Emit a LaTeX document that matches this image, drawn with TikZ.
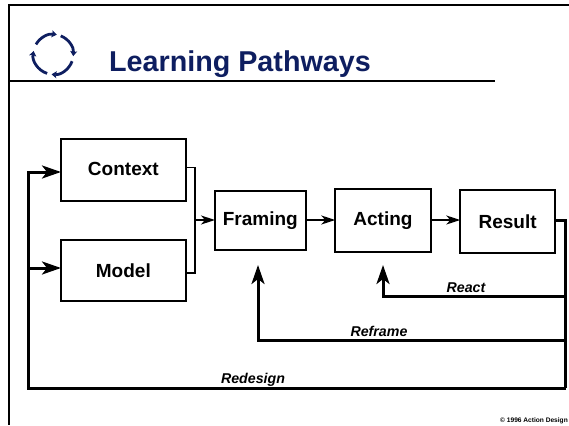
\documentclass[tikz,border=0pt]{standalone}
\usepackage{fontspec}
\setmainfont{Liberation Sans}
\usetikzlibrary{arrows.meta}
\definecolor{navy}{RGB}{14,30,96}
\tikzset{
  x=1pt,y=-1pt,
  box/.style={draw=black,line width=1.8pt,fill=white,inner sep=0pt,outer sep=0pt,font=\bfseries\fontsize{19}{21}\selectfont,anchor=north west},
  thin line/.style={draw=black,line width=1.5pt},
  thick line/.style={draw=black,line width=3pt},
  small tip/.style={-{Stealth[length=14pt,width=9pt,inset=4pt]}},
  big tip/.style={-{Stealth[length=19pt,width=13pt,inset=5pt]}},
  fb/.style={font=\bfseries\itshape\fontsize{14.2}{16}\selectfont,inner sep=0pt},
  rule/.style={draw=black,line width=1.6pt}
}
\begin{document}
\begin{tikzpicture}
\useasboundingbox (0,0) rectangle (569,425);
\draw[rule] (569,5) -- (9,5) -- (9,425);
\draw[rule] (9,81) -- (495,81);
% cycle icon
\foreach \s/\e in {150/80,68/-5,-20/-95,-108/-190}{
  \draw[navy,line width=2.8pt,-{Stealth[length=5pt,width=7pt,inset=1pt]}] ({53.3+20*cos(\s)},{54.4-20*sin(\s)}) arc[start angle=\s,end angle=\e,radius=20pt];
}
\node[text=navy,font=\bfseries\fontsize{28.7}{32}\selectfont,anchor=base west,inner sep=0pt] (title) at (109,71.5) {Learning Pathways};
\node[box,minimum width=124.7pt,minimum height=61.4pt] (context) at (61,139.3) {\raisebox{2pt}{Context}};
\node[box,minimum width=124.7pt,minimum height=61pt] (model) at (61,240) {Model};
\node[box,minimum width=90.7pt,minimum height=59pt] (framing) at (215,191) {Framing};
\node[box,minimum width=95.4pt,minimum height=63pt] (acting) at (335.3,188.7) {Acting};
\node[box,minimum width=94.7pt,minimum height=63pt] (result) at (460.3,190) {Result};
\coordinate (busr) at (195,167.5);
\coordinate (busb) at (195,273);
\coordinate (busm) at (195,220);
\draw[thin line] (context.east |- busr) -- (busr) -- (busb) -- (model.east |- busb);
\draw[thin line,small tip] (busm) -- (framing.west |- busm);
\draw[thin line,small tip] (framing.east |- 0,220) -- (acting.west |- 0,220);
\draw[thin line,small tip] (acting.east |- 0,220) -- (result.west |- 0,220);
\coordinate (rr) at (565.5,220);
\coordinate (reactc) at (383,296.7);
\coordinate (reframec) at (258,340);
\coordinate (redesignc) at (28,388);
\coordinate (cin) at (28,172);
\coordinate (min) at (28,268);
\draw[thick line] (result.east |- rr) -- (rr) -- (565.5,388);
\draw[thick line,big tip] (565.5,296.7) -- (reactc) -- (383,265);
\draw[thick line,big tip] (565.5,340) -- (reframec) -- (258,265);
\draw[thick line,big tip] (565.5,388) -- (redesignc) -- (cin) -- (context.west |- cin);
\draw[thick line,big tip] (min) -- (model.west |- min);
\node[fb] (react) at (466,288) {React};
\node[fb] (reframe) at (379,331.5) {Reframe};
\node[fb] (redesign) at (253,380) {Redesign};
\node[font=\bfseries\fontsize{6.6}{8}\selectfont,anchor=base east,inner sep=0pt] (copy) at (568,422) {© 1996 Action Design};
\end{tikzpicture}
\end{document}
